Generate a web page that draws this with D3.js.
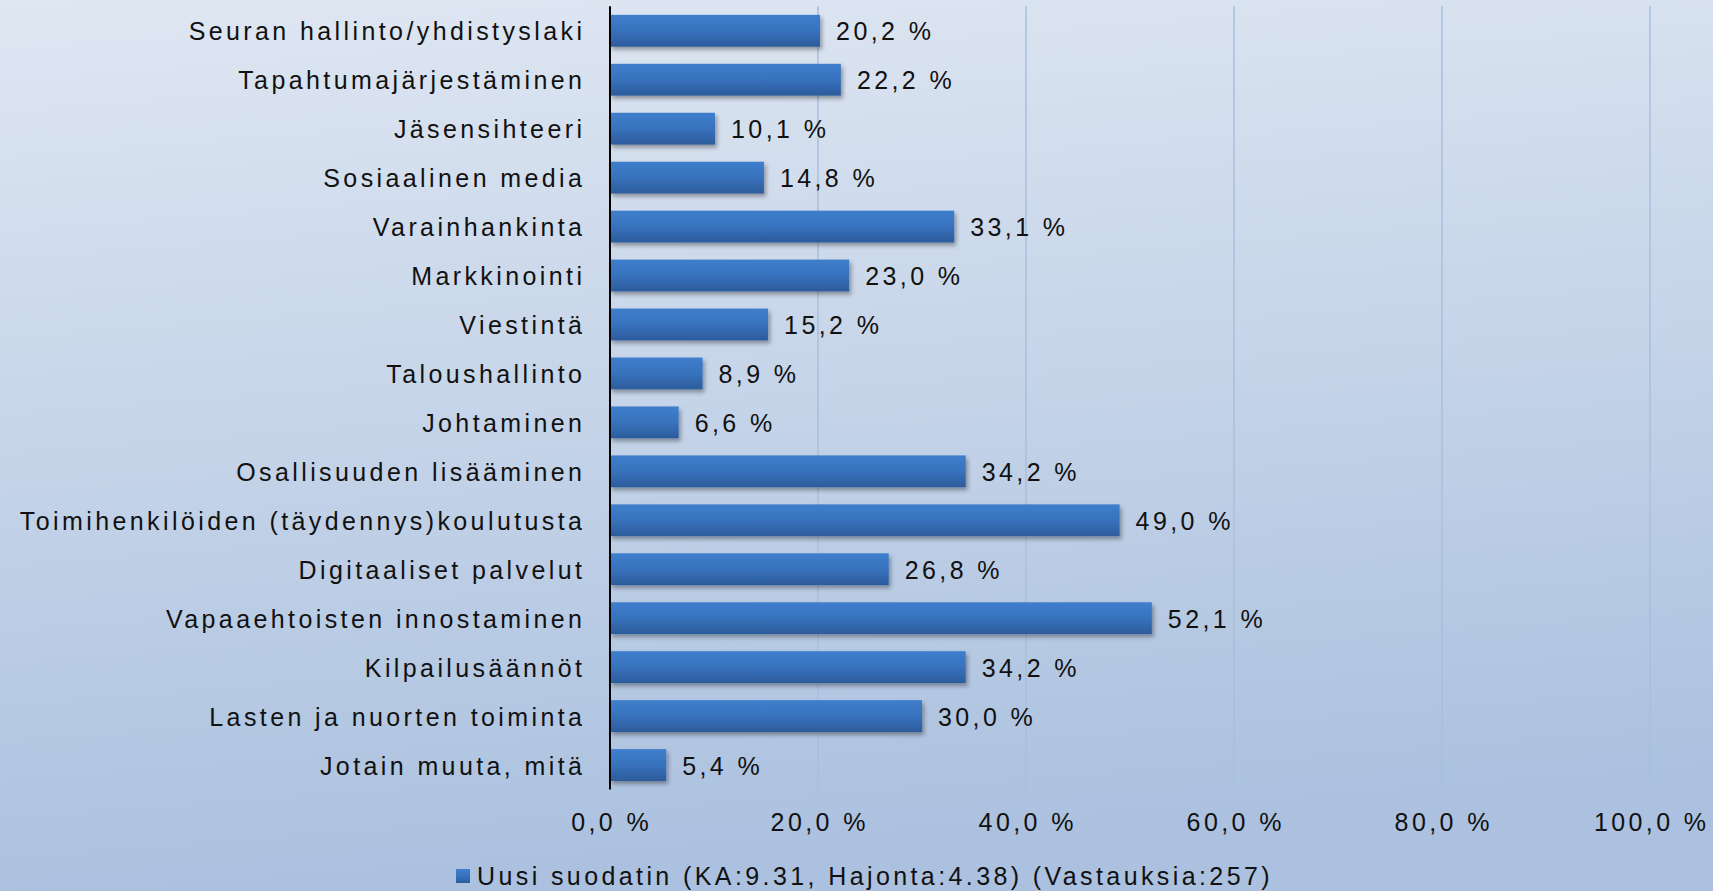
<!DOCTYPE html>
<html lang="fi">
<head>
    <meta charset="UTF-8">
    <title>Koulutustarpeet</title>
    <script src="https://cdn.jsdelivr.net/npm/d3@7"></script>
    <style>
        html, body { margin: 0; padding: 0; overflow: hidden; }
        svg { display: block; }
        text { font-family: "Liberation Sans", Arial, sans-serif; font-size: 25px; letter-spacing: 3.4px; fill: #111; }
    </style>
</head>
<body>
<script>
    var categories = ["Seuran hallinto/yhdistyslaki", "Tapahtumajärjestäminen", "Jäsensihteeri",
        "Sosiaalinen media", "Varainhankinta", "Markkinointi", "Viestintä", "Taloushallinto",
        "Johtaminen", "Osallisuuden lisääminen", "Toimihenkilöiden (täydennys)koulutusta",
        "Digitaaliset palvelut", "Vapaaehtoisten innostaminen", "Kilpailusäännöt",
        "Lasten ja nuorten toiminta", "Jotain muuta, mitä"];
    var values = [20.2, 22.2, 10.1, 14.8, 33.1, 23.0, 15.2, 8.9, 6.6, 34.2, 49.0, 26.8, 52.1, 34.2, 30.0, 5.4];
    var ticks = [0, 20, 40, 60, 80, 100];
    var legendLabel = "Uusi suodatin (KA:9.31, Hajonta:4.38) (Vastauksia:257)";

    var w = 1713, h = 891;
    var ls = 3.4;
    var fi = d3.formatLocale({decimal: ",", thousands: " ", grouping: [3], currency: ["", " €"]});
    var fmt = fi.format(".1f");

    var svg = d3.select("body").append("svg")
        .attr("width", w)
        .attr("height", h);

    var defs = svg.append("defs");
    var bg = defs.append("linearGradient").attr("id", "bg")
        .attr("x1", "0").attr("y1", "0").attr("x2", "0.15").attr("y2", "1");
    bg.append("stop").attr("offset", "0").attr("stop-color", "#dfe7f2");
    bg.append("stop").attr("offset", "1").attr("stop-color", "#abc1df");

    var barGrad = defs.append("linearGradient").attr("id", "barGrad")
        .attr("x1", "0").attr("y1", "0").attr("x2", "0").attr("y2", "1");
    barGrad.append("stop").attr("offset", "0").attr("stop-color", "#3e7ecc");
    barGrad.append("stop").attr("offset", "0.5").attr("stop-color", "#3872bd");
    barGrad.append("stop").attr("offset", "1").attr("stop-color", "#2c5b9b");

    var shadow = defs.append("filter").attr("id", "shadow")
        .attr("x", "-5%").attr("y", "-20%").attr("width", "115%").attr("height", "160%");
    shadow.append("feDropShadow")
        .attr("dx", 2).attr("dy", 3).attr("stdDeviation", 2)
        .attr("flood-color", "#000").attr("flood-opacity", 0.35);

    svg.append("rect").attr("width", w).attr("height", h).attr("fill", "url(#bg)");

    var x = d3.scaleLinear().domain([0, 100]).range([610, 1650]);
    var y = d3.scaleBand().domain(categories).range([6.3, 789.5])
        .paddingInner(0.35).paddingOuter(0.175);

    // gridlines
    svg.append("g").selectAll("line")
        .data(ticks.slice(1))
        .enter()
        .append("line")
        .attr("x1", function (d) { return x(d); })
        .attr("x2", function (d) { return x(d); })
        .attr("y1", y.range()[0])
        .attr("y2", y.range()[1])
        .attr("stroke", "#a9bfdc")
        .attr("stroke-width", 1.5);

    // bars
    svg.append("g").selectAll("rect")
        .data(values)
        .enter()
        .append("rect")
        .attr("x", x(0))
        .attr("y", function (d, i) { return y(categories[i]); })
        .attr("width", function (d) { return x(d) - x(0); })
        .attr("height", y.bandwidth())
        .attr("fill", "url(#barGrad)")
        .attr("filter", "url(#shadow)");

    // value labels
    svg.append("g").selectAll("text")
        .data(values)
        .enter()
        .append("text")
        .text(function (d) { return fmt(d) + " %"; })
        .attr("x", function (d) { return x(d) + 16; })
        .attr("y", function (d, i) { return y(categories[i]) + y.bandwidth() / 2; })
        .attr("dy", "0.38em");

    // category labels
    svg.append("g").selectAll("text")
        .data(categories)
        .enter()
        .append("text")
        .text(function (d) { return d; })
        .attr("x", 582 + ls)
        .attr("y", function (d) { return y(d) + y.bandwidth() / 2; })
        .attr("dy", "0.38em")
        .attr("text-anchor", "end");

    // axis line
    svg.append("line")
        .attr("x1", x(0)).attr("x2", x(0))
        .attr("y1", y.range()[0]).attr("y2", y.range()[1])
        .attr("stroke", "#000")
        .attr("stroke-width", 2);

    // tick labels
    svg.append("g").selectAll("text")
        .data(ticks)
        .enter()
        .append("text")
        .text(function (d) { return fmt(d) + " %"; })
        .attr("x", function (d) { return x(d) + ls / 2; })
        .attr("y", 831)
        .attr("text-anchor", "middle");

    // legend
    var legend = svg.append("g");
    var lt = legend.append("text")
        .text(legendLabel)
        .attr("x", 480)
        .attr("y", 885);
    var tw = lt.node().getComputedTextLength();
    var lx = (w - (21 + tw)) / 2 + 8;
    lt.attr("x", lx + 21);
    legend.append("rect")
        .attr("x", lx)
        .attr("y", 869)
        .attr("width", 14)
        .attr("height", 14)
        .attr("fill", "url(#barGrad)");
</script>
</body>
</html>
